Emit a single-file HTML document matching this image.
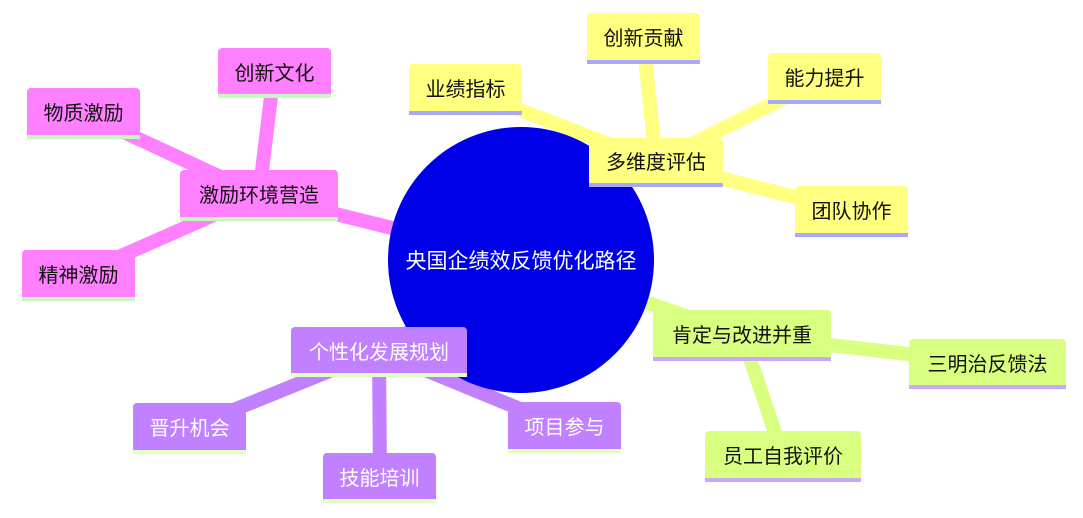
<!DOCTYPE html>
<html><head><meta charset="utf-8"><style>
body{margin:0;width:1083px;height:518px;background:#fff;overflow:hidden;position:relative;font-family:"Liberation Sans","Noto Sans CJK SC",sans-serif}
.n{position:absolute;box-sizing:border-box;border-radius:4px 4px 0 0;display:flex;align-items:center;justify-content:center;font-size:20px;color:#111;border-bottom:4px solid}
.y{background:#ffff80;border-color:#a8a8ff}
.p{background:#ff80ff;border-color:#c8f8c0}
.v{background:#c080ff;border-color:#e0ffc0;color:#fff}
.g{background:#d9ff80;border-color:#c8a8ff}
svg{position:absolute;left:0;top:0}
</style></head><body>
<svg width="1083" height="518">
<g stroke-width="14" stroke-linecap="butt">
<g stroke="#ffff80">
<line x1="521" y1="260" x2="656" y2="162"/>
<line x1="656" y1="162" x2="465" y2="89"/>
<line x1="656" y1="162" x2="643" y2="38"/>
<line x1="656" y1="162" x2="824" y2="78"/>
<line x1="656" y1="162" x2="851" y2="211"/>
</g>
<g stroke="#ff80ff">
<line x1="521" y1="260" x2="259" y2="195"/>
<line x1="259" y1="195" x2="274" y2="72"/>
<line x1="259" y1="195" x2="83" y2="113"/>
<line x1="259" y1="195" x2="78" y2="275"/>
</g>
<g stroke="#c080ff">
<line x1="521" y1="260" x2="379" y2="351"/>
<line x1="379" y1="351" x2="189" y2="428"/>
<line x1="379" y1="351" x2="380" y2="477"/>
<line x1="379" y1="351" x2="564" y2="427"/>
</g>
<g stroke="#d9ff80">
<line x1="521" y1="260" x2="742" y2="335"/>
<line x1="742" y1="335" x2="987" y2="363"/>
<line x1="742" y1="335" x2="783" y2="456"/>
</g>
</g>
<circle cx="521" cy="260" r="133" fill="#0000e8"/>
<text x="521" y="268" fill="#fff" font-size="21" text-anchor="middle" font-family="Liberation Sans,Noto Sans CJK SC,sans-serif">央国企绩效反馈优化路径</text>
</svg>
<div class="n y" style="left:589px;top:138px;width:134px;height:49px">多维度评估</div>
<div class="n y" style="left:409px;top:64px;width:113px;height:51px">业绩指标</div>
<div class="n y" style="left:587px;top:13px;width:113px;height:51px">创新贡献</div>
<div class="n y" style="left:768px;top:53px;width:113px;height:51px">能力提升</div>
<div class="n y" style="left:795px;top:186px;width:113px;height:51px">团队协作</div>
<div class="n p" style="left:180px;top:170px;width:158px;height:51px">激励环境营造</div>
<div class="n p" style="left:218px;top:48px;width:113px;height:50px">创新文化</div>
<div class="n p" style="left:27px;top:88px;width:113px;height:51px">物质激励</div>
<div class="n p" style="left:22px;top:250px;width:113px;height:51px">精神激励</div>
<div class="n v" style="left:291px;top:327px;width:176px;height:50px">个性化发展规划</div>
<div class="n v" style="left:133px;top:403px;width:113px;height:51px">晋升机会</div>
<div class="n v" style="left:323px;top:453px;width:113px;height:50px">技能培训</div>
<div class="n v" style="left:508px;top:402px;width:113px;height:51px">项目参与</div>
<div class="n g" style="left:653px;top:310px;width:178px;height:51px">肯定与改进并重</div>
<div class="n g" style="left:909px;top:339px;width:157px;height:50px">三明治反馈法</div>
<div class="n g" style="left:705px;top:431px;width:156px;height:51px">员工自我评价</div>
</body></html>
